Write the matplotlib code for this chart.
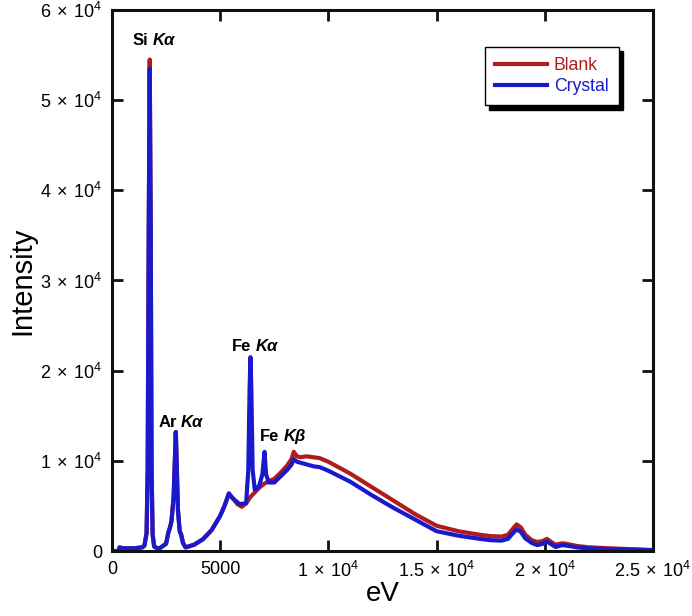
import matplotlib
matplotlib.use("Agg")
from matplotlib import pyplot as plt
from matplotlib.ticker import FixedLocator, FuncFormatter

plt.rcParams['font.family'] = ['Liberation Sans', 'DejaVu Sans']
plt.rcParams['mathtext.fontset'] = 'custom'
plt.rcParams['mathtext.rm'] = 'Liberation Sans'

# spectrum values (eV, counts)
blank_ev = [0, 300, 350, 500, 1000, 1400, 1500, 1600, 1650, 1700, 1745, 1790, 1830, 1880, 1950,
            2100, 2200, 2500, 2600, 2680, 2750, 2850, 2950, 3050, 3130, 3200, 3280, 3400,
            3800, 4200, 4600, 5000, 5200, 5400, 5600, 5800, 6000, 6200, 6400, 6600, 6800,
            7000, 7200, 7500, 7800, 8100, 8300, 8400, 8550, 8700, 9000, 9300, 9600, 10000,
            11000, 12000, 13000, 14000, 15000, 16000, 17000, 17500, 18000, 18300, 18500,
            18700, 18900, 19100, 19400, 19650, 19900, 20100, 20300, 20500, 20800, 21000,
            21500, 22000, 23000, 24000, 25000]
blank_counts = [0, 0, 400, 300, 300, 400, 600, 2000, 9000, 36000, 54500, 36000, 9000, 1800, 500,
                300, 300, 800, 2000, 2600, 3300, 6000, 13200, 4500, 2200, 1800, 900, 400,
                700, 1300, 2300, 3900, 5000, 6300, 5800, 5200, 4900, 5300, 6000, 6500, 7000,
                7400, 7700, 8000, 8700, 9500, 10200, 11000, 10500, 10400, 10500, 10400, 10300, 9900,
                8600, 7100, 5600, 4100, 2800, 2200, 1800, 1650, 1600, 1800, 2400,
                2950, 2600, 1800, 1200, 1000, 1100, 1350, 1000, 700, 850, 800,
                550, 420, 300, 200, 100]

crystal_ev = [0, 300, 350, 500, 1000, 1400, 1500, 1600, 1650, 1700, 1745, 1790, 1830, 1880, 1950,
              2100, 2200, 2500, 2600, 2680, 2750, 2850, 2950, 3050, 3130, 3200, 3280, 3400,
              3800, 4200, 4600, 5000, 5200, 5400, 5600, 5900, 6200, 6300, 6360, 6400, 6440,
              6500, 6600, 6800, 6950, 7050, 7120, 7250, 7500, 7800, 8100, 8300, 8400, 8550,
              8700, 9000, 9300, 9600, 10000, 11000, 12000, 13000, 14000, 15000, 16000, 17000,
              17500, 18000, 18300, 18500, 18700, 18900, 19100, 19400, 19650, 19900, 20100,
              20300, 20500, 20800, 21000, 21500, 22000, 23000, 24000, 25000]
crystal_counts = [0, 0, 400, 300, 300, 400, 600, 2000, 9000, 36000, 53500, 36000, 9000, 1800, 500,
                  300, 300, 800, 2000, 2600, 3300, 6000, 13200, 4500, 2200, 1800, 900, 400,
                  700, 1300, 2300, 3900, 5000, 6400, 5800, 5200, 5300, 9000, 18000, 21500, 18000,
                  9000, 6800, 7200, 8500, 11000, 8500, 7600, 7600, 8300, 9000, 9600, 10200, 9900,
                  9800, 9600, 9400, 9300, 8900, 7700, 6200, 4800, 3500, 2200, 1700, 1350,
                  1200, 1150, 1350, 1900, 2400, 2100, 1400, 900, 650, 800, 1050,
                  750, 450, 650, 600, 400, 300, 200, 150, 100]

peak_names = ['Si', 'Ar', 'Fe', 'Fe']
peak_lines = ['K\u03b1', 'K\u03b1', 'K\u03b1', 'K\u03b2']
peak_ev = [1780, 3096, 6540, 7830]
peak_y = [56670, 14300, 22700, 12750]

red = '#b01c1c'
blue = '#1a1acc'
ink = '#111111'

fig = plt.figure(figsize=(6.92, 6.16), dpi=100)
ax = fig.add_axes([0.1618, 0.1055, 0.7818, 0.8783])

ax.plot(blank_ev, blank_counts, color=red, lw=3, label='Blank', solid_joinstyle='round')
ax.plot(crystal_ev, crystal_counts, color=blue, lw=3, label='Crystal', solid_joinstyle='round')

for name, line, x, y in zip(peak_names, peak_lines, peak_ev, peak_y):
    ax.annotate(name, xy=(x, y), xytext=(-1.5, 0), textcoords='offset points',
                ha='right', va='center', fontsize=12, fontweight='bold')
    ax.annotate(line, xy=(x, y), xytext=(1.5, 0), textcoords='offset points',
                ha='left', va='center', fontsize=12, fontweight='bold', fontstyle='italic')

ax.set_xlim(0, 25000)
ax.set_ylim(0, 60000)


def sci(v, pos):
    if v == 0:
        return '0'
    if v < 10000:
        return '%d' % v
    m = '%g' % (v / 10000)
    return r'$\mathregular{%s\,\times\,10^4}$' % m


ax.xaxis.set_major_locator(FixedLocator([0, 5000, 10000, 15000, 20000, 25000]))
ax.yaxis.set_major_locator(FixedLocator([0, 10000, 20000, 30000, 40000, 50000, 60000]))
ax.xaxis.set_major_formatter(FuncFormatter(sci))
ax.yaxis.set_major_formatter(FuncFormatter(sci))
ax.tick_params(direction='in', length=8, width=2, top=True, right=True,
               labelsize=13, pad=7, color=ink)
for s in ax.spines.values():
    s.set_linewidth(2.2)
    s.set_color(ink)

ax.set_xlabel('eV', fontsize=20, labelpad=0)
ax.set_ylabel('Intensity', fontsize=21, labelpad=3)

leg = ax.legend(loc='upper right', bbox_to_anchor=(0.937, 0.932), borderaxespad=0,
                fancybox=False, edgecolor='black', framealpha=1, fontsize=12.7,
                labelcolor='linecolor', handlelength=2.9, handletextpad=0.4,
                labelspacing=0.2, borderpad=0.6,
                shadow={'color': 'black', 'alpha': 1, 'ox': 3, 'oy': -3})
leg.get_frame().set_linewidth(1.0)

fig.savefig('out.png', dpi=100)
